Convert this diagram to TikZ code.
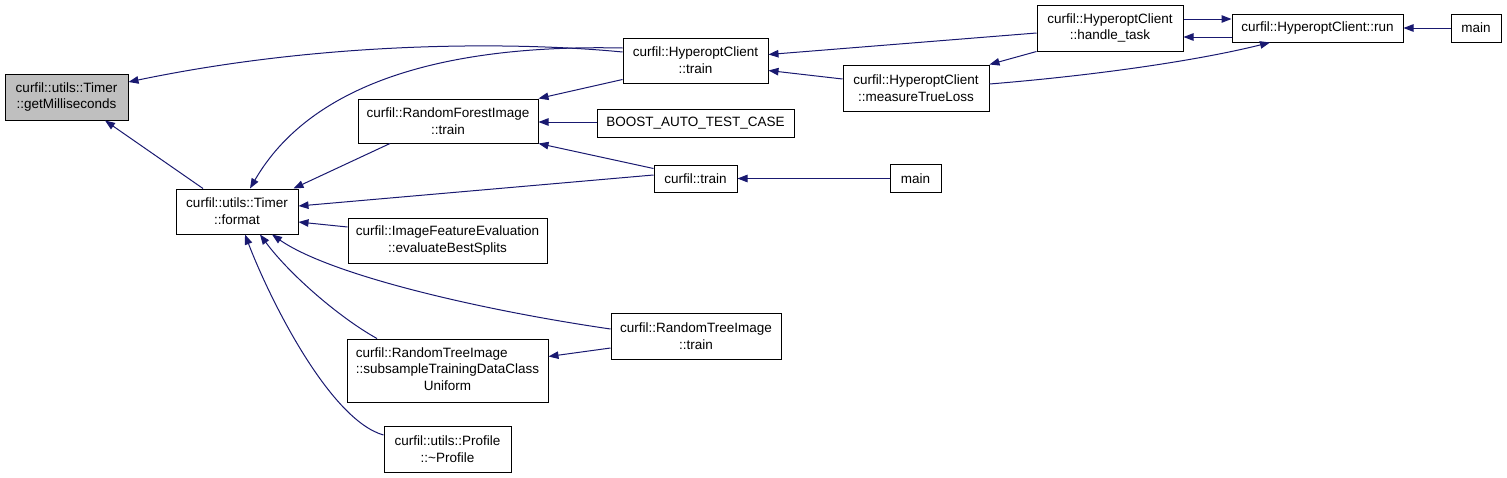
\documentclass[tikz,border=0pt]{standalone}
\usepackage{fontspec}
\setmainfont{Liberation Sans}
\usetikzlibrary{arrows.meta,calc}
\definecolor{edgeblue}{HTML}{191970}
\definecolor{grayfill}{HTML}{BFBFBF}
\begin{document}
\begin{tikzpicture}[x=1pt,y=-1pt,
  box/.style={draw=black,line width=1pt,fill=white,inner sep=0pt,align=center,
    font=\fontsize{13.5}{16.7}\selectfont},
  edge/.style={draw=edgeblue,line width=1pt,-{Triangle[length=10pt,width=7.5pt]}}]
\useasboundingbox (0,0) rectangle (1507,477);
% nodes
\node[box,fill=grayfill,minimum width=123pt,minimum height=46pt] (getms) at (66.5,97) {curfil::utils::Timer\\::getMilliseconds};
\node[box,minimum width=122pt,minimum height=45pt] (format) at (237,211.5) {curfil::utils::Timer\\::format};
\node[box,minimum width=145pt,minimum height=45pt] (hctrain) at (695.5,60.5) {curfil::HyperoptClient\\::train};
\node[box,minimum width=180pt,minimum height=44pt] (rfi) at (448,121) {curfil::RandomForestImage\\::train};
\node[box,minimum width=197pt,minimum height=28pt] (boost) at (695.5,123) {BOOST\_AUTO\_TEST\_CASE};
\node[box,minimum width=83pt,minimum height=27pt] (ctrain) at (695.5,178.5) {curfil::train};
\node[box,minimum width=199pt,minimum height=45pt] (ife) at (447.5,240.5) {curfil::ImageFeatureEvaluation\\::evaluateBestSplits};
\node[box,minimum width=51pt,minimum height=28pt] (mainmid) at (915.5,178.5) {main};
\node[box,minimum width=170pt,minimum height=46pt] (rtitrain) at (696,336) {curfil::RandomTreeImage\\::train};
\node[box,minimum width=201pt,minimum height=63pt] (subsample) at (447.5,370.5)
  {\begin{tabular}{@{}l@{}}curfil::RandomTreeImage\\::subsampleTrainingDataClass\\\multicolumn{1}{@{}c@{}}{Uniform}\end{tabular}};
\node[box,minimum width=127pt,minimum height=46pt] (profile) at (447.5,449) {curfil::utils::Profile\\::\char`~Profile};
\node[box,minimum width=146pt,minimum height=46pt] (handle) at (1110,28) {curfil::HyperoptClient\\::handle\_task};
\node[box,minimum width=146pt,minimum height=46pt] (measure) at (916,88) {curfil::HyperoptClient\\::measureTrueLoss};
\node[box,minimum width=171pt,minimum height=28pt] (run) at (1317.5,28) {curfil::HyperoptClient::run};
\node[box,minimum width=50pt,minimum height=28pt] (mainr) at (1476,28) {main};
% edges
\draw[edge] ($(hctrain.west)+(0,-8.5)$) .. controls (520,42) and (330,40) .. ($(getms.east)+(0,-15)$);
\draw[edge] ($(hctrain.west)+(0,-12.5)$) .. controls (440,44) and (310,85) .. ($(format.north)+(13,0)$);
\draw[edge] ($(format.north)+(-34,0)$) -- ($(getms.south)+(38.5,0)$);
\draw[edge] ($(rfi.south)+(-58,0)$) -- ($(format.north east)+(-5,0)$);
\draw[edge] ($(ctrain.west)+(0,-3.5)$) -- ($(format.east)+(0,-5.5)$);
\draw[edge] ($(ife.west)+(0,-13.5)$) -- ($(format.east)+(0,10.5)$);
\draw[edge] ($(rtitrain.west)+(0,-7)$) .. controls (480,310) and (330,275) .. ($(format.south)+(35,0)$);
\draw[edge] ($(subsample.north)+(-70.5,0)$) .. controls (340,318) and (290,275) .. ($(format.south)+(23,0)$);
\draw[edge] ($(profile.west)+(0,-14)$) .. controls (330,420) and (270,300) .. ($(format.south)+(8,0)$);
\draw[edge] ($(hctrain.south west)+(0,-4)$) -- (rfi.north east);
\draw[edge] ($(boost.west)+(0,-1)$) -- ($(rfi.east)+(0,1)$);
\draw[edge] ($(ctrain.west)+(0,-10)$) -- (rfi.south east);
\draw[edge] (mainmid.west) -- (ctrain.east);
\draw[edge] ($(rtitrain.west)+(0,12)$) -- ($(subsample.east)+(0,-14)$);
\draw[edge] ($(handle.west)+(0,5)$) -- ($(hctrain.east)+(0,-6)$);
\draw[edge] ($(measure.west)+(0,-9)$) -- ($(hctrain.east)+(0,10)$);
\draw[edge] (handle.south west) -- (measure.north east);
\draw[edge] ($(measure.east)+(0,-4)$) .. controls (1100,75) and (1200,60) .. ($(run.south)+(-47.5,0)$);
\draw[edge] ($(handle.east)+(0,-9)$) -- ($(run.west)+(0,-9)$);
\draw[edge] ($(run.west)+(0,9)$) -- ($(handle.east)+(0,9)$);
\draw[edge] (mainr.west) -- (run.east);
\end{tikzpicture}
\end{document}
